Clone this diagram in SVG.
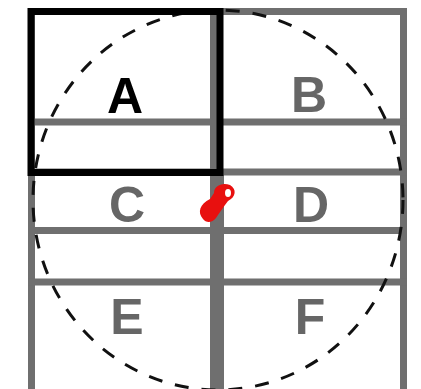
<svg xmlns="http://www.w3.org/2000/svg" width="421" height="389" viewBox="0 0 421 389">
<style>
.g{fill:#6f6f6f}
.lbl{font-family:"Liberation Sans",Arial,sans-serif;font-weight:bold;font-size:50px;text-anchor:middle;fill:#666}
.dash{fill:none;stroke:#111;stroke-width:3;stroke-dasharray:14 13}
</style>
<rect width="421" height="389" fill="#fff"/>
<g id="grid">
<rect class="g" x="28" y="8" width="7" height="381"/>
<rect class="g" x="400" y="8" width="7" height="381"/>
<rect class="g" x="28" y="8" width="379" height="7"/>
<rect class="g" x="28" y="118.5" width="379" height="7"/>
<rect class="g" x="28" y="168.5" width="379" height="7"/>
<rect class="g" x="28" y="227" width="379" height="7"/>
<rect class="g" x="28" y="278.5" width="379" height="7"/>
<rect class="g" x="210" y="8" width="7" height="165"/>
<rect class="g" x="210" y="172" width="14" height="217"/>
</g>
<g id="circle">
<ellipse class="dash" cx="218" cy="200" rx="185" ry="190"/>
</g>
<g id="A">
<rect x="31" y="11.5" width="189" height="161" fill="none" stroke="#000" stroke-width="7"/>
<text class="lbl" x="125" y="113" style="fill:#000">A</text>
</g>
<g id="B"><text class="lbl" x="309" y="112">B</text></g>
<g id="C"><text class="lbl" x="127" y="222">C</text></g>
<g id="D"><text class="lbl" x="311" y="222">D</text></g>
<g id="E"><text class="lbl" x="127" y="334">E</text></g>
<g id="F"><text class="lbl" x="310" y="334">F</text></g>
<g id="marker">
<path d="M203,219 C197,212 200,204 210,199 L214,193 C214,186 222,182 230,185 C237,189 236,197 228,201 C224,206 220,212 216,218 C212,223 206,223 203,219 Z" fill="#e8100f"/>
<ellipse cx="228" cy="193" rx="3" ry="4" fill="#fff"/>
</g>
<g id="connectors"></g>
</svg>
